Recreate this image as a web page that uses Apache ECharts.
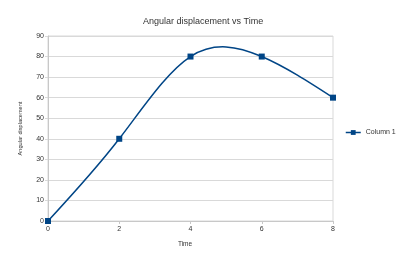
<!DOCTYPE html>
<html><head><meta charset="utf-8">
<script src="https://cdn.jsdelivr.net/npm/echarts@6/dist/echarts.min.js"></script>
<style>html,body{margin:0;padding:0;background:#fff}#c{width:400px;height:273px}</style>
</head><body><div id="c"></div>
<script>
const times = [0, 2, 4, 6, 8];
const column1 = [0, 40, 80, 80, 60];
const yTicks = { min: 0, max: 90, interval: 10 };
const xTicks = { min: 0, max: 8, interval: 2 };

// Natural cubic spline slopes at knots (for the smooth line rendering)
function splineSlopes(xs, ys) {
  const n = xs.length;
  const h = [], M = new Array(n).fill(0);
  for (let i = 0; i < n - 1; i++) h.push(xs[i + 1] - xs[i]);
  const a = [], b = [], c = [], d = [];
  for (let i = 1; i < n - 1; i++) {
    a.push(h[i - 1]); b.push(2 * (h[i - 1] + h[i])); c.push(h[i]);
    d.push(6 * ((ys[i + 1] - ys[i]) / h[i] - (ys[i] - ys[i - 1]) / h[i - 1]));
  }
  const m = d.length;
  for (let i = 1; i < m; i++) {
    const w = a[i] / b[i - 1];
    b[i] -= w * c[i - 1]; d[i] -= w * d[i - 1];
  }
  const sol = new Array(m);
  for (let i = m - 1; i >= 0; i--) sol[i] = (d[i] - (i < m - 1 ? c[i] * sol[i + 1] : 0)) / b[i];
  for (let i = 0; i < m; i++) M[i + 1] = sol[i];
  const s = [];
  for (let i = 0; i < n; i++) {
    if (i < n - 1) s.push((ys[i + 1] - ys[i]) / h[i] - h[i] * (2 * M[i] + M[i + 1]) / 6);
    else s.push((ys[i] - ys[i - 1]) / h[i - 1] + h[i - 1] * (M[i - 1] + 2 * M[i]) / 6);
  }
  return s;
}
const slopes = splineSlopes(times, column1);

const color = '#004586';
const chart = echarts.init(document.getElementById('c'), null, { renderer: 'canvas' });
const font = 'Liberation Sans';
chart.setOption({
  animation: false,
  backgroundColor: '#fff',
  title: {
    text: 'Angular displacement vs Time',
    left: 138, top: 12,
    textStyle: { fontFamily: font, fontSize: 9, fontWeight: 'normal', color: '#333' }
  },
  legend: {
    left: 345, top: 129, orient: 'vertical', padding: 0,
    itemWidth: 15, itemHeight: 6, itemGap: 4,
    textStyle: { fontFamily: font, fontSize: 7, color: '#333' },
    lineStyle: { color: color, width: 1.5, opacity: 1 },
    data: ['Column 1']
  },
  grid: { left: 48, right: 67, top: 36, bottom: 52, show: true, borderColor: '#d9d9d9', borderWidth: 1 },
  xAxis: {
    type: 'value', min: xTicks.min, max: xTicks.max, interval: xTicks.interval,
    name: 'Time', nameLocation: 'middle', nameGap: 20,
    nameTextStyle: { fontFamily: font, fontSize: 6.5, color: '#333', padding: [0, 11, 0, 0] },
    axisLine: { lineStyle: { color: '#c8c8c8' } },
    axisTick: { show: true, length: 3, lineStyle: { color: '#c8c8c8' } },
    axisLabel: { fontFamily: font, fontSize: 7, color: '#333', margin: 5 },
    splitLine: { show: false }
  },
  yAxis: {
    type: 'value', min: yTicks.min, max: yTicks.max, interval: yTicks.interval,
    name: 'Angular displacement', nameLocation: 'middle', nameGap: 25,
    nameTextStyle: { fontFamily: font, fontSize: 5.6, color: '#333' },
    axisLine: { show: true, lineStyle: { color: '#c8c8c8' } },
    axisTick: { show: true, length: 3, lineStyle: { color: '#d9d9d9' } },
    axisLabel: { fontFamily: font, fontSize: 7, color: '#333', margin: 4 },
    splitLine: { show: true, lineStyle: { color: '#d9d9d9' } }
  },
  series: [{
    name: 'curve', type: 'custom',
    data: times.map((t, i) => [t, column1[i]]),
    silent: true, z: 2,
    renderItem: function (params, api) {
      const i = params.dataIndex;
      if (i >= times.length - 1) return null;
      const h = times[i + 1] - times[i];
      const p0 = api.coord([times[i], column1[i]]);
      const p1 = api.coord([times[i] + h / 3, column1[i] + slopes[i] * h / 3]);
      const p2 = api.coord([times[i + 1] - h / 3, column1[i + 1] - slopes[i + 1] * h / 3]);
      const p3 = api.coord([times[i + 1], column1[i + 1]]);
      return {
        type: 'bezierCurve',
        shape: { x1: p0[0], y1: p0[1], cpx1: p1[0], cpy1: p1[1], cpx2: p2[0], cpy2: p2[1], x2: p3[0], y2: p3[1] },
        style: { stroke: color, lineWidth: 1.5, fill: null }
      };
    }
  }, {
    name: 'Column 1', type: 'line', z: 3,
    data: times.map((t, i) => [t, column1[i]]),
    symbol: 'rect', symbolSize: 6,
    itemStyle: { color: color },
    lineStyle: { color: color, width: 1.5, opacity: 0 }
  }]
});
</script></body></html>
